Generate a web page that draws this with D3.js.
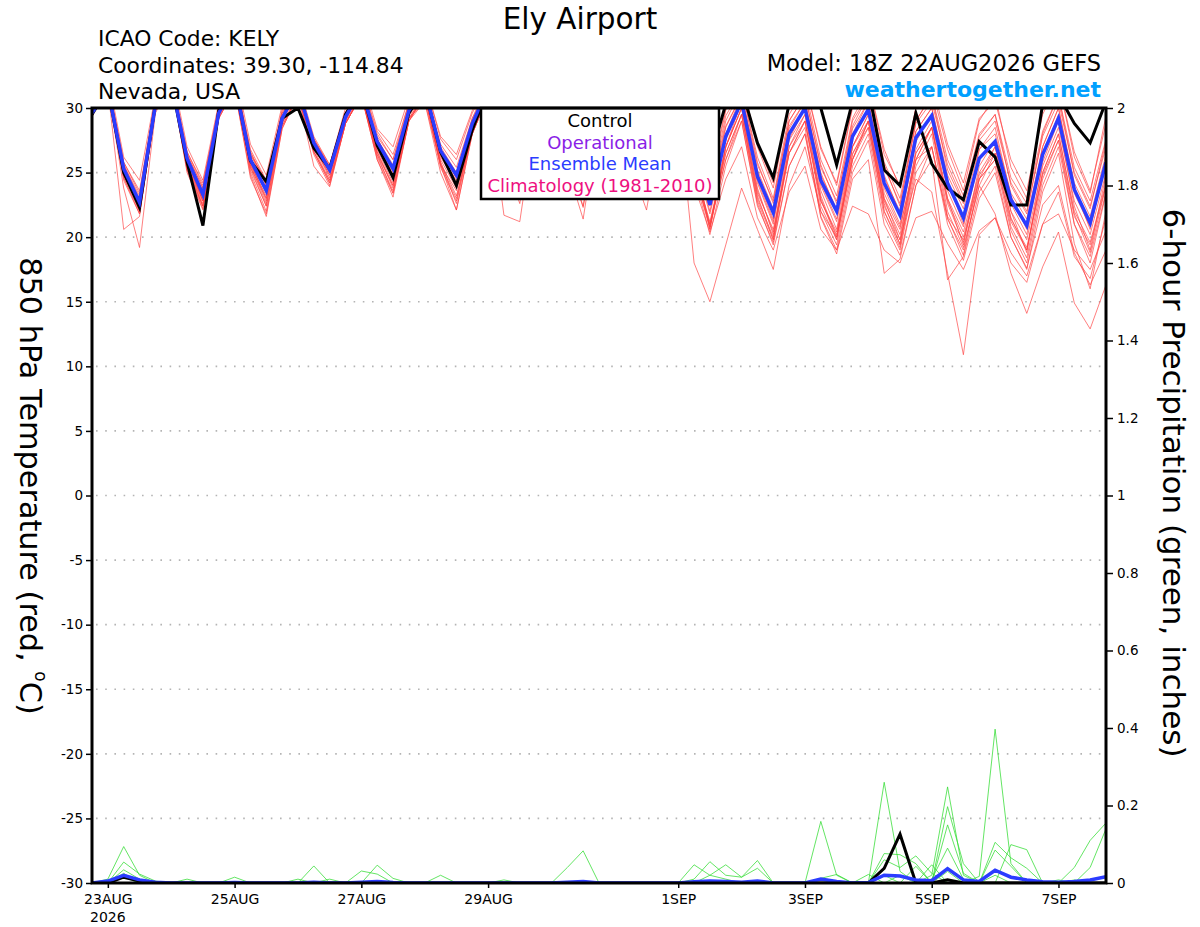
<!DOCTYPE html>
<html><head><meta charset="utf-8">
<script src="https://cdn.jsdelivr.net/npm/d3@7"></script>
<style>
body{margin:0;background:#fff;}
svg{display:block;font-family:"DejaVu Sans",sans-serif;}
</style></head><body>
<svg id="chart" width="1200" height="927"></svg>
<script>
// ---------------- DATA ----------------
const startTime = "2026-08-22T18:00:00Z";
const stepHours = 6;

const tempMean = [29.6, 31.5,25.3,22.7,30.2, 32,26.1,23.3,29.6, 32,26.0,23.6,29.2, 31.5,27.3,25.2,29.3, 31.5,27.4,25.3,29.8, 31.5,26.7,24.8,28.8, 31.5,27.6,25.6,30.2, 31.5,27.6,25.4,30.1, 31.5,27.4,25.3,30.0, 31.2,26.8,22.5,27.8, 30.5,24.7,21.9,28.0, 30.0,24.4,22.0,27.8, 29.9,24.2,21.7,27.7, 29.4,24.2,21.5,26.1, 27.4,22.9,20.9,26.4, 29.2,23.7,21.1,25.8];
const tempControl = [29.5, 31.5,25.0,22.3,30.3, 32,25.8,20.9,29.8, 32,25.9,24.3,29.2, 30.0,26.9,25.3,29.5, 31.5,27.1,24.6,29.6, 31.5,26.6,24.0,28.3, 31.5,27.5,25.2,30.0, 31.5,27.2,25.0,30.0, 31.5,27.0,25.0,30.2, 31.5,28.5,26.0,30.3, 31.5,27.3,24.6,30.3, 31.0,30.0,25.6,30.5, 31.5,25.2,24.0,29.6, 25.7,23.8,22.9,27.4, 26.2,22.5,22.5,30.3, 31.0,28.8,27.3,30.5];

const tempMembers = [
[29.6, 32.0,25.0,22.4,30.5, 32.5,25.8,23.0,29.8, 32.0,25.6,23.2,29.0, 31.5,27.0,25.0,29.2, 31.5,27.2,25.0,29.6, 31.5,26.4,24.4,28.6, 31.5,27.4,25.4,30.2, 31.5,27.4,25.2,30.0, 31.5,27.2,25.0,30.0, 31.5,27.0,22.6,28.0, 31.0,25.0,22.0,28.4, 30.5,24.8,22.2,28.0, 30.5,24.6,22.0,28.2, 30.0,24.8,22.2,26.8, 28.0,23.4,21.4,27.0, 30.0,24.2,21.6,26.4],
[29.4, 31.5,23.8,19.2,29.6, 32.0,25.4,22.4,29.4, 32.0,25.0,22.0,28.6, 31.0,26.6,24.4,28.8, 31.0,26.4,23.4,29.0, 31.0,25.8,23.2,28.0, 31.0,26.8,24.6,29.6, 31.0,26.8,24.2,29.6, 31.0,26.6,24.0,29.4, 30.5,25.0,20.8,26.0, 29.5,22.8,19.8,26.5, 29.0,22.4,19.8,26.0, 28.5,22.0,19.5,26.5, 28.5,22.6,19.6,24.5, 26.0,21.2,19.0,24.8, 27.5,21.6,19.4,24.0],
[29.8, 31.5,20.6,21.6,30.0, 32.0,26.4,23.8,30.2, 32.5,26.6,24.0,29.6, 31.5,27.6,25.4,29.6, 32.0,28.0,26.0,30.4, 31.5,27.2,25.4,29.2, 32.0,28.0,26.2,30.6, 32.0,28.0,26.0,30.6, 32.0,27.8,25.8,30.4, 32.0,28.0,23.4,29.4, 31.5,26.2,23.0,29.5, 31.5,26.0,23.2,29.2, 31.5,25.8,23.0,29.0, 31.0,26.0,23.2,28.0, 29.5,24.6,22.6,28.2, 31.0,25.4,22.8,27.6],
[29.5, 32.0,25.6,23.2,30.6, 32.5,26.2,23.6,29.8, 32.0,26.0,23.8,29.4, 31.5,27.4,25.2,29.4, 31.5,27.6,25.6,30.0, 31.5,26.8,25.0,29.0, 31.5,27.8,25.8,30.4, 31.5,27.6,25.6,30.2, 31.5,27.4,25.4,30.0, 30.5,18.0,15.0,19.4, 23.8,20.6,17.5,24.0, 27.0,22.0,20.0,26.0, 29.0,23.0,20.6,26.5, 28.5,23.0,20.4,25.0, 27.0,22.0,19.8,25.5, 28.5,22.8,20.2,25.0],
[29.7, 32.0,25.4,22.8,30.4, 32.0,26.0,23.2,29.6, 32.0,26.4,24.4,29.4, 31.5,27.2,25.0,29.2, 31.5,27.0,24.8,29.6, 31.5,26.6,24.6,28.8, 31.5,27.6,25.6,30.2, 31.5,27.4,25.4,30.0, 31.0,27.0,25.0,29.6, 31.0,26.2,21.8,27.0, 30.0,23.6,20.4,26.5, 28.5,21.5,18.7,24.5, 26.0,17.2,18.3,24.0, 27.0,21.5,18.6,24.5, 26.0,20.5,18.0,24.0, 27.0,21.0,18.5,23.5],
[29.5, 31.5,24.8,22.2,30.0, 32.0,25.8,23.0,29.4, 32.0,25.4,23.0,28.8, 31.5,27.0,24.8,29.0, 31.5,26.8,24.2,29.4, 31.0,26.0,23.8,28.2, 31.0,27.0,25.0,29.8, 31.0,27.0,24.8,29.8, 31.0,26.8,24.6,29.6, 30.5,25.6,21.0,26.5, 29.5,23.0,20.0,27.0, 29.0,22.8,20.2,26.5, 28.5,22.4,19.8,24.5, 23.5,17.2,10.9,20.2, 21.5,18.0,16.5,21.0, 23.5,18.5,16.8,21.5],
[29.6, 32.0,25.2,22.6,30.2, 32.0,26.2,23.4,29.6, 32.5,26.4,24.0,29.6, 31.5,27.4,25.4,29.4, 31.5,27.8,26.0,30.0, 31.0,26.6,24.6,28.8, 31.5,27.8,26.0,30.4, 31.5,27.8,25.8,30.2, 31.5,27.8,25.6,30.2, 31.5,27.2,22.8,28.0, 30.5,24.6,21.4,27.8, 30.0,24.0,21.2,27.0, 29.5,23.4,20.8,26.0, 27.0,21.4,19.0,24.0, 21.8,17.2,14.1,17.7, 20.4,14.9,12.9,16.3],
[29.3, 32.0,25.8,23.4,30.6, 32.0,26.4,23.8,29.8, 32.0,26.2,23.6,29.4, 31.5,27.4,25.2,29.4, 31.5,27.4,25.2,29.8, 31.0,26.6,24.8,28.8, 31.5,27.6,25.4,30.0, 31.5,27.6,25.2,30.0, 31.5,27.4,25.2,30.0, 31.5,27.4,23.2,28.6, 31.0,25.6,22.8,29.0, 31.0,25.4,22.8,28.6, 31.0,25.4,22.6,28.8, 30.5,25.6,22.8,27.5, 29.0,24.2,22.0,27.8, 30.5,25.0,22.4,27.0],
[29.6, 31.5,24.6,21.8,29.8, 32.0,25.2,22.2,29.2, 31.5,24.8,21.6,28.4, 31.0,26.4,24.0,28.8, 31.0,26.2,23.6,29.0, 30.5,25.0,22.1,28.0, 31.0,21.7,21.2,29.5, 31.0,26.0,22.4,29.5, 31.0,26.2,23.0,29.2, 30.5,24.8,20.2,25.5, 29.0,22.6,19.4,25.5, 28.0,21.6,19.0,25.0, 27.5,21.0,18.6,24.0, 26.0,16.7,18.5,23.5, 25.5,20.0,17.5,23.5, 26.5,19.5,16.0,22.0],
[29.8, 32.0,25.2,22.0,30.0, 32.0,25.6,22.4,29.4, 32.0,25.6,22.6,29.0, 31.5,26.8,24.4,29.0, 31.0,26.6,23.8,29.2, 31.0,25.8,22.6,28.2, 31.0,26.2,22.6,29.6, 31.0,26.0,22.3,29.6, 31.0,26.0,22.9,29.4, 30.5,25.4,21.2,26.5, 29.5,23.4,20.6,26.5, 29.0,22.8,20.4,26.0, 29.0,22.8,20.2,26.0, 28.5,22.8,20.0,24.8, 26.5,21.4,19.2,25.0, 28.0,22.0,19.6,24.2],
[29.5, 32.0,25.4,22.6,30.2, 32.0,25.8,22.8,29.4, 32.0,25.8,22.8,29.2, 31.5,27.0,24.6,29.2, 31.0,26.0,23.1,29.0, 31.0,25.6,23.0,28.4, 31.0,26.6,23.6,29.8, 31.0,25.4,21.4,29.4, 31.0,25.6,22.1,29.4, 31.0,25.8,20.8,27.0, 30.0,23.8,20.2,27.5, 29.5,23.2,20.0,27.0, 29.5,23.0,19.8,26.8, 29.0,23.0,19.4,25.5, 27.5,22.0,18.8,25.8, 29.0,22.4,19.0,24.8],
[30.0, 32.5,26.2,24.4,31.0, 33.0,27.0,24.4,30.4, 33.0,27.2,24.8,30.2, 32.0,27.8,25.6,30.0, 32.5,28.4,27.0,30.8, 32.0,27.8,26.4,29.8, 32.0,28.4,26.6,30.8, 32.0,28.2,26.4,30.8, 32.0,28.2,26.2,30.8, 32.5,28.6,24.4,30.0, 32.0,27.0,23.8,30.2, 32.0,27.0,24.0,30.0, 32.0,26.8,23.8,30.0, 32.0,27.2,24.2,29.2, 30.5,26.0,23.6,29.5, 32.0,26.6,23.6,28.8],
[29.6, 32.0,25.0,22.2,30.0, 32.0,26.0,22.8,29.6, 32.0,26.0,23.4,29.2, 31.5,27.2,25.0,29.2, 31.5,27.2,24.8,29.6, 31.0,26.4,24.0,28.6, 31.5,27.4,25.0,30.0, 31.5,27.2,24.8,29.8, 31.5,27.0,24.6,29.8, 31.0,26.6,22.0,27.5, 30.5,24.4,21.2,28.0, 30.0,24.2,21.4,27.6, 30.0,23.8,21.0,27.4, 29.5,23.6,20.8,26.0, 27.5,22.6,20.2,26.4, 29.5,23.4,20.8,25.6],
[29.4, 31.5,24.8,22.4,30.0, 32.0,25.6,22.6,29.2, 31.5,25.2,22.4,28.6, 31.0,26.6,24.2,28.8, 31.0,26.6,24.0,29.2, 30.5,25.6,23.6,28.0, 31.0,26.6,24.2,29.4, 31.0,26.6,24.0,29.4, 30.5,26.4,23.8,29.2, 30.0,24.0,20.4,24.5, 27.0,21.5,19.0,23.5, 25.5,20.6,19.0,22.4, 21.8,19.0,18.0,21.5, 22.0,19.5,17.5,20.5, 21.5,18.8,17.0,21.0, 21.8,19.0,17.5,20.5],
[29.7, 32.0,25.6,23.0,30.4, 32.5,26.6,24.0,30.0, 32.5,26.6,24.2,29.8, 31.5,27.6,25.6,29.6, 32.0,27.6,25.4,30.2, 31.5,27.0,25.0,29.2, 31.5,28.0,26.0,30.4, 31.5,27.8,25.8,30.4, 31.5,27.6,25.6,30.2, 31.5,27.6,23.0,29.0, 31.5,25.8,22.6,29.0, 31.0,25.6,22.6,29.0, 31.0,25.6,22.4,29.0, 31.0,25.2,22.6,27.8, 29.5,24.0,21.8,28.0, 31.0,24.8,22.2,27.4],
[29.5, 31.5,24.4,21.8,29.8, 32.0,25.0,22.1,29.2, 31.5,24.6,21.8,28.4, 31.0,25.5,23.9,28.8, 31.0,26.0,23.4,29.0, 31.0,25.4,22.8,28.2, 31.0,26.4,23.8,29.6, 31.0,26.2,23.6,29.6, 31.0,26.2,23.4,29.4, 30.5,25.2,20.6,27.0, 30.0,23.2,19.8,27.0, 29.5,23.0,19.8,26.4, 29.0,22.6,19.4,26.0, 28.5,22.0,19.2,24.0, 26.5,20.8,18.4,24.5, 27.5,21.0,18.0,23.4],
[29.6, 32.0,25.8,23.6,30.6, 32.5,26.6,24.2,30.0, 32.5,26.8,24.4,29.8, 31.5,27.6,25.4,29.6, 32.0,28.2,26.4,30.4, 32.0,27.6,26.0,29.6, 32.0,28.2,26.4,30.6, 32.0,28.0,26.2,30.6, 32.0,28.0,26.0,30.6, 32.0,28.2,24.0,29.8, 32.0,27.2,24.2,30.5, 32.0,26.8,24.2,30.2, 32.0,26.4,24.0,30.0, 31.5,26.8,23.6,29.0, 31.0,25.4,23.0,29.8, 32.0,26.2,23.4,29.4],
[29.4, 31.5,25.0,22.4,30.2, 32.0,25.6,22.8,29.6, 32.0,25.8,23.0,29.2, 31.5,27.0,24.8,29.2, 31.5,27.0,24.6,29.6, 31.0,26.2,24.2,28.6, 31.5,27.2,25.2,30.0, 31.5,27.2,25.0,30.0, 31.5,27.0,24.8,29.8, 31.0,26.4,20.6,27.0, 30.5,24.2,21.0,27.6, 30.0,23.6,20.6,27.0, 29.0,22.0,19.2,25.5, 28.0,21.6,19.8,24.5, 27.0,21.5,19.0,25.0, 28.0,21.8,18.8,24.0],
[29.7, 32.0,25.4,22.8,30.4, 32.0,26.0,23.2,29.8, 32.0,26.2,23.6,29.4, 31.5,27.2,25.2,29.4, 31.5,27.6,25.4,29.8, 31.5,26.8,24.6,28.8, 31.5,27.6,25.4,30.2, 31.5,27.6,25.2,30.2, 31.5,27.4,25.2,30.0, 31.5,27.0,22.4,28.5, 31.0,25.2,22.2,28.6, 30.5,25.0,22.0,28.4, 30.5,24.8,21.8,28.2, 30.0,24.4,21.0,26.8, 28.5,23.2,20.6,27.0, 30.0,23.8,20.6,26.0],
[29.5, 31.5,24.6,22.0,29.8, 32.0,25.2,22.4,29.4, 32.0,25.4,22.4,28.8, 31.0,26.6,24.2,28.8, 31.0,26.4,24.0,29.2, 31.0,25.6,22.1,28.0, 31.0,26.6,24.0,29.6, 31.0,26.6,23.8,29.6, 31.0,26.4,23.4,29.4, 30.5,25.0,21.0,26.0, 29.0,22.4,19.6,25.5, 28.0,22.0,19.4,25.5, 28.0,21.6,19.0,25.0, 27.0,21.0,18.2,23.0, 25.0,20.0,17.6,22.5, 24.0,18.8,16.3,19.0]
];

const precipMean = [0,.005,.02,.008,.002,0,0,0,0,.001,0,0,0, 0,.002,0,0,.002,.004,.001,0,0,0,0,0,0, 0,0,0,0,.002,.004,0,0,0,0,0,0,.003, .005,.004,.002,.005,0,0,0,.01,.004,0,.001,.02,.018, .008,.006,.037,.008,.004,.033,.015,.008,.003,.002,.004,.008,.016];
const precipControl = [0,0,.015,.005,0,0,0,0,0,0,0,0,0, 0,0,0,0,0,0,0,0,0,0,0,0,0, 0,0,0,0,0,0,0,0,0,0,0,0,0, 0,0,0,0,0,0,0,0,0,0,0,.038,.126, 0,0,.008,0,0,0,0,0,0,0,0,0,0];
const precipMembers = [
[0,.01,.094,.02,0,0,0,0,0,0,0,0,0, 0,0,0,0,0,0,0,0,0,0,0,0,0, .008,0,0,0,0,0,0,0,0,0,0,0,.047, .02,.01,0,0,0,0,0,0,0,0,0,0,0, 0,0,.03,0,0,0,0,0,0,.008,0,0,0],
[0,0,.054,.023,.005,0,0,0,0,0,0,0,0, 0,0,0,0,0,0,0,0,0,0,0,0,0, 0,0,0,0,0,0,0,0,0,0,0,0,.01, .055,.02,.015,.058,0,0,0,0,0,0,0,0,0, 0,0,0,0,0,0,0,0,0,0,.008,0,0],
[0,0,.034,.01,0,0,0,0,0,0,0,0,0, 0,0,0,0,0,0,0,0,0,0,0,0,0, 0,0,0,0,0,0,0,0,0,0,0,0,0, .02,.047,.015,.038,0,0,0,0,0,0,0,0,0, 0,0,0,0,0,0,0,0,0,0,.04,.11,.155],
[0,0,.025,0,0,0,0,0,0,0,0,0,0, 0,0,0,0,0,0,0,0,0,0,0,0,0, 0,0,0,0,0,0,0,0,0,0,0,0,0, 0,0,0,0,0,0,0,.159,.02,0,0,0,0, 0,0,0,0,0,0,0,0,0,0,0,.04,.14],
[0,.005,.015,0,0,0,0,0,0,0,0,0,0, 0,0,0,0,0,0,0,0,0,0,0,0,0, 0,0,0,0,0,0,0,0,0,0,0,0,0, 0,0,0,0,0,0,0,.012,.022,0,0,0,0, 0,0,0,0,0,0,0,0,0,0,0,0,0],
[0,0,0,0,0,0,.01,0,0,0,0,0,0, 0,0,0,0,0,0,0,0,0,0,0,0,0, 0,0,0,0,0,0,0,0,0,0,0,0,0, 0,0,0,0,0,0,0,.008,0,0,0,0,0, 0,0,0,0,0,0,0,0,0,0,0,0,0],
[0,0,0,0,0,0,0,0,0,.015,0,0,0, 0,0,0,0,0,0,0,0,0,0,0,0,0, 0,0,0,0,0,0,0,0,0,0,0,0,0, 0,0,0,0,0,0,0,0,0,0,.022,0,0, 0,0,0,0,0,0,0,0,0,0,0,0,0],
[0,0,0,0,0,0,0,0,0,0,0,0,0, .01,0,0,0,0,0,0,0,0,0,0,0,0, 0,0,0,0,0,0,0,0,0,0,0,0,0, 0,0,0,0,0,0,0,0,0,0,0,.26,.03, 0,0,0,0,0,0,0,0,0,0,0,0,0],
[0,0,0,0,0,0,0,0,0,0,0,0,0, 0,.044,0,0,0,0,0,0,0,0,0,0,0, 0,0,0,0,0,0,0,0,0,0,0,0,0, 0,0,0,0,0,0,0,0,0,0,0,.076,.073, .05,0,0,0,0,0,0,0,0,0,0,0,0],
[0,0,0,0,0,0,0,0,0,0,0,0,0, 0,0,.01,0,0,0,0,0,0,0,0,0,0, 0,0,0,0,0,0,0,0,0,0,0,0,0, 0,0,0,0,0,0,0,0,0,0,0,.06,.04, .07,.025,0,0,0,0,0,0,0,0,0,0,0],
[0,0,0,0,0,0,0,0,0,0,0,0,0, 0,0,0,0,.031,.023,0,0,0,0,0,0,0, 0,0,0,0,0,0,0,0,0,0,0,0,0, 0,0,0,0,0,0,0,0,0,0,0,.02,0, .043,0,0,0,0,0,0,0,0,0,0,0,0],
[0,0,0,0,0,0,0,0,0,0,0,0,0, 0,0,0,0,0,.046,.012,0,0,0,0,0,0, 0,0,0,0,0,0,0,0,0,0,0,0,0, 0,0,0,0,0,0,0,0,0,0,0,0,.02, 0,.047,0,0,0,0,0,0,0,0,0,0,0],
[0,0,0,0,0,0,0,0,0,0,0,0,0, 0,0,0,0,0,0,0,0,0,.02,0,0,0, 0,0,0,0,0,0,0,0,0,0,0,0,0, 0,0,0,0,0,0,0,0,0,0,0,0,0, 0,.02,.248,.02,0,.02,0,0,0,0,0,0,0],
[0,0,0,0,0,0,0,0,0,0,0,0,0, 0,0,0,0,0,0,0,0,0,0,0,0,0, 0,0,0,0,.04,.083,0,0,0,0,0,0,0, 0,0,0,0,0,0,0,0,0,0,0,0,0, 0,0,.197,.05,0,0,0,0,0,0,0,0,0],
[0,0,0,0,0,0,0,0,0,0,0,0,0, 0,0,0,0,0,0,0,0,0,0,0,0,0, 0,0,0,0,0,0,0,0,0,0,0,0,0, 0,0,0,0,0,0,0,0,0,0,0,0,0, 0,0,.15,.025,0,0,0,0,0,0,0,0,0],
[0,0,0,0,0,0,0,0,0,0,0,0,0, 0,0,0,0,0,0,0,0,0,0,0,0,0, 0,0,0,0,0,0,0,0,0,0,0,0,0, 0,0,0,0,0,0,0,0,0,0,0,0,0, 0,.01,.09,.01,0,0,0,0,0,0,0,0,0],
[0,0,0,0,0,0,0,0,0,0,0,0,0, 0,0,0,0,0,0,0,0,0,0,0,0,0, 0,0,0,0,0,0,0,0,0,0,0,0,0, 0,0,0,0,0,0,0,0,0,0,0,0,0, 0,0,0,0,.017,.397,.05,0,0,0,0,0,0],
[0,0,0,0,0,0,0,0,0,0,0,0,0, 0,0,0,0,0,0,0,0,0,0,0,0,0, 0,0,0,0,0,0,0,0,0,0,0,0,0, 0,0,0,0,0,0,0,0,0,0,0,0,0, 0,0,0,0,0,.105,.065,.038,0,0,0,0,0],
[0,0,0,0,0,0,0,0,0,0,0,0,0, 0,0,0,0,0,0,0,0,0,0,0,0,0, 0,0,0,0,0,0,0,0,0,0,0,0,0, 0,0,0,0,0,0,0,0,0,0,0,0,0, 0,0,0,0,0,.085,.043,0,0,0,0,0,0],
[0,0,0,0,0,0,0,0,0,0,0,0,0, 0,0,0,0,0,0,0,0,0,0,0,0,0, 0,0,0,0,0,0,0,0,0,0,0,0,0, 0,0,0,0,0,0,0,0,0,0,0,0,0, 0,0,0,0,0,0,.099,.086,0,0,0,0,0]
];

const tempTicks = [-30,-25,-20,-15,-10,-5,0,5,10,15,20,25,30];
const precipTicks = [0,0.2,0.4,0.6,0.8,1,1.2,1.4,1.6,1.8,2];
const dateTicks = ["2026-08-23T00:00:00Z","2026-08-25T00:00:00Z","2026-08-27T00:00:00Z","2026-08-29T00:00:00Z","2026-09-01T00:00:00Z","2026-09-03T00:00:00Z","2026-09-05T00:00:00Z","2026-09-07T00:00:00Z"];
const dateTickLabels = ["23AUG","25AUG","27AUG","29AUG","1SEP","3SEP","5SEP","7SEP"];
const yearLabel = "2026";
const legendLabels = ["Control","Operational","Ensemble Mean","Climatology (1981-2010)"];
const titleText = "Ely Airport";
const infoLines = ["ICAO Code: KELY","Coordinates: 39.30, -114.84","Nevada, USA"];
const modelText = "Model: 18Z 22AUG2026 GEFS";
const siteText = "weathertogether.net";

// ---------------- DRAW ----------------
const svg = d3.select("#chart");
const X0 = 92, X1 = 1106, Y0 = 108, Y1 = 883;
const FONT = "'DejaVu Sans', sans-serif";
const t0 = Date.parse(startTime);
const times = tempMean.map((_, i) => new Date(t0 + i * stepHours * 3600e3));

const x = d3.scaleUtc().domain([times[0], times[times.length - 1]]).range([X0, X1]);
const yT = d3.scaleLinear().domain([-30, 30]).range([Y1, Y0]);
const yP = d3.scaleLinear().domain([0, 2]).range([Y1, Y0]);

svg.append("rect").attr("width", 1200).attr("height", 927).attr("fill", "#fff");

svg.append("defs").append("clipPath").attr("id", "plotclip")
  .append("rect").attr("x", X0).attr("y", Y0).attr("width", X1 - X0).attr("height", Y1 - Y0);

// grid
svg.append("g").selectAll("line")
  .data(tempTicks.filter(t => t > -30 && t < 30))
  .join("line")
  .attr("x1", X0 + 4).attr("x2", X1)
  .attr("y1", d => yT(d)).attr("y2", d => yT(d))
  .attr("stroke", "#b4b4b4").attr("stroke-width", 1.6)
  .attr("stroke-dasharray", "1.6,7.6");

const lineT = d3.line().x((d, i) => x(times[i])).y(d => yT(d));
const lineP = d3.line().x((d, i) => x(times[i])).y(d => yP(d));

const plot = svg.append("g").attr("clip-path", "url(#plotclip)");

plot.selectAll("path.mem").data(tempMembers).join("path")
  .attr("class", "mem").attr("d", lineT)
  .attr("fill", "none").attr("stroke", "#ff4040").attr("stroke-opacity", 0.75).attr("stroke-width", 0.9);

plot.selectAll("path.pmem").data(precipMembers).join("path")
  .attr("class", "pmem").attr("d", lineP)
  .attr("fill", "none").attr("stroke", "#33dd33").attr("stroke-opacity", 0.85).attr("stroke-width", 0.9);

plot.append("path").attr("d", lineT(tempControl))
  .attr("fill", "none").attr("stroke", "#000").attr("stroke-width", 3).attr("stroke-linejoin", "miter");
plot.append("path").attr("d", lineP(precipControl))
  .attr("fill", "none").attr("stroke", "#000").attr("stroke-width", 3);
plot.append("path").attr("d", lineT(tempMean))
  .attr("fill", "none").attr("stroke", "#2b3cff").attr("stroke-width", 3.5);
plot.append("path").attr("d", lineP(precipMean))
  .attr("fill", "none").attr("stroke", "#2b3cff").attr("stroke-width", 3.5);

// axes
const gL = svg.append("g").attr("transform", `translate(${X0},0)`)
  .call(d3.axisLeft(yT).tickValues(tempTicks).tickSize(6).tickPadding(3).tickFormat(d => String(d)));
const gR = svg.append("g").attr("transform", `translate(${X1},0)`)
  .call(d3.axisRight(yP).tickValues(precipTicks).tickSize(7).tickPadding(4).tickFormat(d => String(d)));
const gB = svg.append("g").attr("transform", `translate(0,${Y1})`)
  .call(d3.axisBottom(x).tickValues(dateTicks.map(d => new Date(d))).tickSize(5).tickPadding(6)
    .tickFormat((d, i) => dateTickLabels[i]));
[gL, gR, gB].forEach(g => {
  g.select(".domain").remove();
  g.attr("font-family", FONT);
  g.selectAll(".tick line").attr("stroke", "#000").attr("stroke-width", 1.5);
  g.selectAll(".tick text").attr("fill", "#000");
});
gL.attr("font-size", 13.5);
gR.attr("font-size", 13.5);
gB.attr("font-size", 14);
gB.selectAll(".tick text").attr("dy", null).attr("y", 21);
gB.append("text").attr("x", x(new Date(dateTicks[0]))).attr("y", 39)
  .attr("text-anchor", "middle").attr("fill", "#000").text(yearLabel);

// legend
const lg = svg.append("g");
lg.append("rect").attr("x", 481).attr("y", Y0).attr("width", 238).attr("height", 91)
  .attr("fill", "#fff").attr("stroke", "#000").attr("stroke-width", 2.5);
const legendColors = ["#000000", "#8a1ee6", "#2b3cff", "#ee1080"];
lg.selectAll("text").data(legendLabels).join("text")
  .attr("x", 600).attr("y", (d, i) => 127 + i * 21.6)
  .attr("text-anchor", "middle").attr("font-family", FONT).attr("font-size", 18)
  .attr("fill", (d, i) => legendColors[i]).text(d => d);

// frame
svg.append("rect").attr("x", X0).attr("y", Y0).attr("width", X1 - X0).attr("height", Y1 - Y0)
  .attr("fill", "none").attr("stroke", "#000").attr("stroke-width", 3);

// header text
svg.append("text").attr("x", 580).attr("y", 29).attr("text-anchor", "middle")
  .attr("font-family", FONT).attr("font-size", 29.5).attr("fill", "#000").text(titleText);
svg.append("g").selectAll("text").data(infoLines).join("text")
  .attr("x", 98).attr("y", (d, i) => 46 + i * 26.6)
  .attr("font-family", FONT).attr("font-size", 21.8).attr("fill", "#000").text(d => d);
svg.append("text").attr("x", 1101).attr("y", 71).attr("text-anchor", "end")
  .attr("font-family", FONT).attr("font-size", 22.5).attr("fill", "#000").text(modelText);
svg.append("text").attr("x", 1101).attr("y", 97).attr("text-anchor", "end")
  .attr("font-family", FONT).attr("font-weight", "bold").attr("font-size", 22).attr("fill", "#00a0ff").text(siteText);

// axis titles (both read top-to-bottom)
const lt = svg.append("text").attr("transform", "translate(31,486) rotate(90)")
  .attr("text-anchor", "middle").attr("dominant-baseline", "central")
  .attr("font-family", FONT).attr("font-size", 30.3).attr("fill", "#000");
lt.append("tspan").text("850 hPa Temperature (red, ");
lt.append("tspan").attr("font-size", 17).attr("dy", -10).text("o");
lt.append("tspan").attr("dy", 10).text("C)");

svg.append("text").attr("transform", "translate(1174,483) rotate(90)")
  .attr("text-anchor", "middle").attr("dominant-baseline", "central")
  .attr("font-family", FONT).attr("font-size", 31).attr("fill", "#000")
  .text("6-hour Precipitation (green, inches)");
</script>
</body></html>
